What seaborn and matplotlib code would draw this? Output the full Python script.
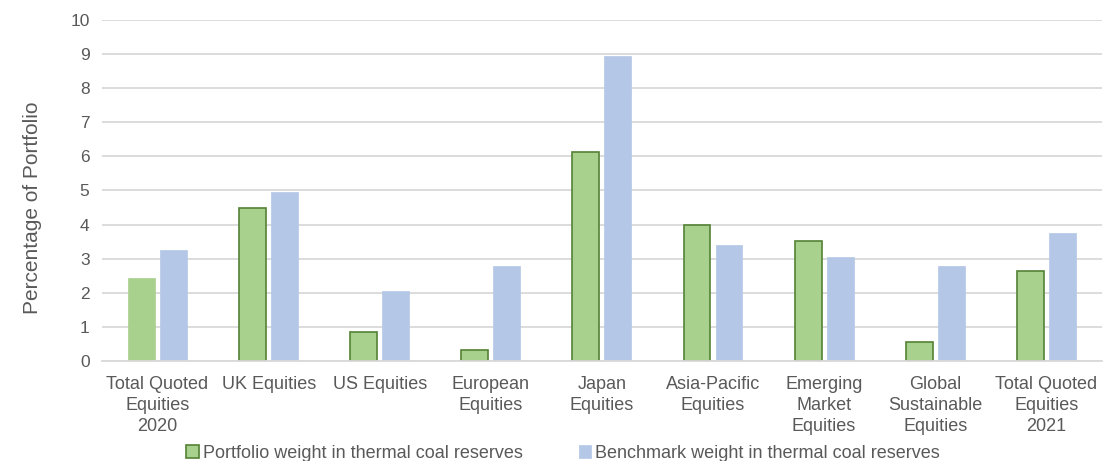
import matplotlib
matplotlib.use("Agg")
import matplotlib.pyplot as plt
import seaborn as sns
import pandas as pd
from matplotlib.patches import Patch

categories = [
    "Total Quoted\nEquities\n2020", "UK Equities", "US Equities",
    "European\nEquities", "Japan\nEquities", "Asia-Pacific\nEquities",
    "Emerging\nMarket\nEquities", "Global\nSustainable\nEquities",
    "Total Quoted\nEquities\n2021",
]
portfolio = [2.44, 4.48, 0.84, 0.31, 6.13, 4.00, 3.53, 0.55, 2.65]
benchmark = [3.26, 4.96, 2.05, 2.79, 8.94, 3.39, 3.06, 2.79, 3.75]
series_names = ["Portfolio weight in thermal coal reserves",
                "Benchmark weight in thermal coal reserves"]

df = pd.DataFrame({
    "category": categories * 2,
    "value": portfolio + benchmark,
    "series": [series_names[0]] * len(categories) + [series_names[1]] * len(categories),
})

green_fill = "#A9D18E"
green_edge = "#548235"
blue_fill = "#B4C7E7"
text_gray = "#595959"
grid_gray = "#D9D9D9"

sns.set_theme(style="white")
plt.rcParams["font.family"] = ["Liberation Sans", "DejaVu Sans"]

fig = plt.figure(figsize=(11.04, 4.61), dpi=100)
ax = fig.add_axes([0.0924, 0.217, 0.9056, 0.740])

sns.barplot(data=df, x="category", y="value", hue="series",
            palette=[green_fill, blue_fill], width=0.576, gap=0.16,
            ax=ax, legend=False, saturation=1)

n = len(categories)
for i, p in enumerate(ax.patches[:2 * n]):
    if i < n:
        if i == 0:
            p.set_edgecolor(green_fill)
            p.set_linewidth(0.5)
        else:
            p.set_edgecolor(green_edge)
            p.set_linewidth(1.2)
    else:
        p.set_edgecolor(blue_fill)
        p.set_linewidth(0.5)

ax.set_ylim(0, 10)
ax.set_xlim(-0.5, n - 0.5)
ax.set_yticks(range(0, 11))
ax.yaxis.grid(True, color=grid_gray, linewidth=1.3)
ax.set_axisbelow(True)
for side in ["top", "right", "left"]:
    ax.spines[side].set_visible(False)
ax.spines["bottom"].set_color(grid_gray)
ax.spines["bottom"].set_linewidth(1.3)

ax.tick_params(axis="x", length=0, labelsize=13, colors=text_gray, pad=11)
ax.tick_params(axis="y", length=0, labelsize=12.5, colors=text_gray, pad=9)
ax.set_xlabel("")
ax.set_ylabel("Percentage of Portfolio", fontsize=15, color=text_gray)
ax.yaxis.set_label_coords(-0.060, 0.45)
for lbl in ax.get_xticklabels():
    lbl.set_linespacing(1.3)

handles = [
    Patch(facecolor=green_fill, edgecolor=green_edge, linewidth=1.2),
    Patch(facecolor=blue_fill, edgecolor=blue_fill, linewidth=0.5),
]
fig.legend(handles, series_names, loc="center", bbox_to_anchor=(0.51, 0.016),
           ncol=2, frameon=False, fontsize=13, labelcolor=text_gray,
           handlelength=0.7, handleheight=0.7, handletextpad=0.2,
           columnspacing=3.1, borderaxespad=0)

fig.savefig("out.png", dpi=100)
